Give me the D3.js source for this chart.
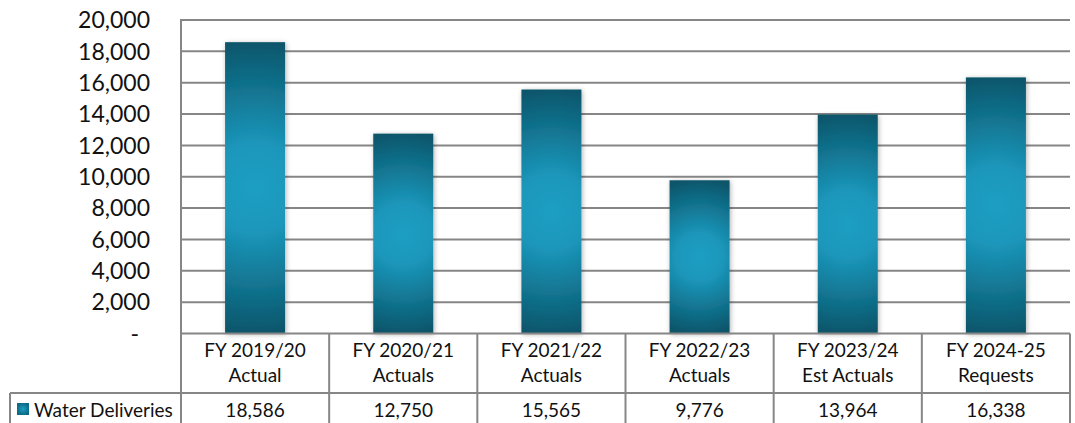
<!DOCTYPE html>
<html>
<head>
<meta charset="utf-8">
<script src="https://cdn.jsdelivr.net/npm/d3@7"></script>
<style>
  html, body { margin: 0; padding: 0; background: #fff; }
  svg { display: block; font-family: Lato, "Open Sans", sans-serif; }
</style>
</head>
<body>
<svg id="chart"></svg>
<script>
// chart data
var categories = [
    ["FY 2019/20", "Actual"],
    ["FY 2020/21", "Actuals"],
    ["FY 2021/22", "Actuals"],
    ["FY 2022/23", "Actuals"],
    ["FY 2023/24", "Est Actuals"],
    ["FY 2024-25", "Requests"]
];
var waterDeliveries = [18586, 12750, 15565, 9776, 13964, 16338];
var seriesName = "Water Deliveries";
var yTicks = [0, 2000, 4000, 6000, 8000, 10000, 12000, 14000, 16000, 18000, 20000];

var width = 1075,
    height = 423;

var plotLeft = 181,
    plotRight = 1070,
    plotTop = 20,
    plotBottom = 333.5,
    headerBottom = 393,
    legendLeft = 10;

var gridColor = "#868686";

var svg = d3.select("#chart")
    .attr("width", width)
    .attr("height", height);

var defs = svg.append("defs");

var shadow = defs.append("filter")
    .attr("id", "shadow")
    .attr("x", "-30%").attr("y", "-10%")
    .attr("width", "160%").attr("height", "120%");
shadow.append("feDropShadow")
    .attr("dx", 1).attr("dy", 1)
    .attr("stdDeviation", 2.5)
    .attr("flood-color", "#000")
    .attr("flood-opacity", 0.3);

var x = d3.scaleBand()
    .domain(d3.range(categories.length))
    .range([plotLeft, plotRight])
    .padding(0);

var y = d3.scaleLinear()
    .domain([0, 20000])
    .range([plotBottom, plotTop]);

var barWidth = x.bandwidth() * 0.405;

// gridlines
svg.append("g").selectAll("line")
    .data(yTicks.filter(function(d) { return d > 0; }))
    .enter().append("line")
    .attr("x1", plotLeft)
    .attr("x2", plotRight)
    .attr("y1", function(d) { return y(d); })
    .attr("y2", function(d) { return y(d); })
    .attr("stroke", gridColor)
    .attr("stroke-width", 2);

// y axis labels
svg.append("g").selectAll("text")
    .data(yTicks)
    .enter().append("text")
    .attr("x", function(d) { return d === 0 ? 139 : 150; })
    .attr("y", function(d) { return y(d); })
    .attr("dy", "0.36em")
    .attr("text-anchor", "end")
    .attr("font-size", 23)
    .attr("fill", "#111")
    .text(function(d) { return d === 0 ? "-" : d3.format(",")(d); });

// bar gradients, one per bar so the glow sits in the middle
waterDeliveries.forEach(function(v, i) {
    var h = plotBottom - y(v);
    var g = defs.append("radialGradient")
        .attr("id", "barGrad" + i)
        .attr("gradientUnits", "userSpaceOnUse")
        .attr("cx", x(i) + x.bandwidth() / 2)
        .attr("cy", y(v) + h / 2)
        .attr("r", Math.max(h / 2, 45));
    g.append("stop").attr("offset", "0%").attr("stop-color", "#1e9ec3");
    g.append("stop").attr("offset", "30%").attr("stop-color", "#1b97bb");
    g.append("stop").attr("offset", "100%").attr("stop-color", "#0a566b");
});

svg.append("g").selectAll("rect")
    .data(waterDeliveries)
    .enter().append("rect")
    .attr("x", function(d, i) { return x(i) + (x.bandwidth() - barWidth) / 2; })
    .attr("y", function(d) { return y(d); })
    .attr("width", barWidth)
    .attr("height", function(d) { return plotBottom - y(d); })
    .attr("fill", function(d, i) { return "url(#barGrad" + i + ")"; })
    .attr("filter", "url(#shadow)");

// data table
var table = svg.append("g")
    .attr("stroke", gridColor)
    .attr("stroke-width", 2)
    .attr("fill", "none");

table.append("line")
    .attr("x1", plotLeft).attr("x2", plotRight)
    .attr("y1", plotBottom).attr("y2", plotBottom);
table.append("line")
    .attr("x1", legendLeft).attr("x2", plotRight)
    .attr("y1", headerBottom).attr("y2", headerBottom);
table.append("line")
    .attr("x1", legendLeft).attr("x2", legendLeft)
    .attr("y1", headerBottom).attr("y2", height + 2);
table.append("line")
    .attr("x1", plotLeft).attr("x2", plotLeft)
    .attr("y1", plotTop - 1).attr("y2", height + 2);

table.selectAll(".col")
    .data(d3.range(categories.length))
    .enter().append("line")
    .attr("class", "col")
    .attr("x1", function(i) { return x(i) + x.bandwidth(); })
    .attr("x2", function(i) { return x(i) + x.bandwidth(); })
    .attr("y1", plotBottom)
    .attr("y2", height + 2);

var headers = svg.append("g").selectAll("text")
    .data(categories)
    .enter().append("text")
    .attr("text-anchor", "middle")
    .attr("font-size", 19)
    .attr("fill", "#111");

headers.append("tspan")
    .attr("x", function(d, i) { return x(i) + x.bandwidth() / 2; })
    .attr("y", 357)
    .text(function(d) { return d[0]; });
headers.append("tspan")
    .attr("x", function(d, i) { return x(i) + x.bandwidth() / 2; })
    .attr("y", 382)
    .text(function(d) { return d[1]; });

svg.append("g").selectAll("text")
    .data(waterDeliveries)
    .enter().append("text")
    .attr("x", function(d, i) { return x(i) + x.bandwidth() / 2; })
    .attr("y", 417)
    .attr("text-anchor", "middle")
    .attr("font-size", 19)
    .attr("fill", "#111")
    .text(function(d) { return d3.format(",")(d); });

// legend key
var keyGrad = defs.append("radialGradient").attr("id", "keyGrad");
keyGrad.append("stop").attr("offset", "0%").attr("stop-color", "#1e9ec3");
keyGrad.append("stop").attr("offset", "100%").attr("stop-color", "#0c6b85");

svg.append("rect")
    .attr("x", 17)
    .attr("y", 403)
    .attr("width", 12)
    .attr("height", 12)
    .attr("fill", "url(#keyGrad)");

svg.append("text")
    .attr("x", 34)
    .attr("y", 417)
    .attr("font-size", 19)
    .attr("fill", "#111")
    .text(seriesName);
</script>
</body>
</html>
